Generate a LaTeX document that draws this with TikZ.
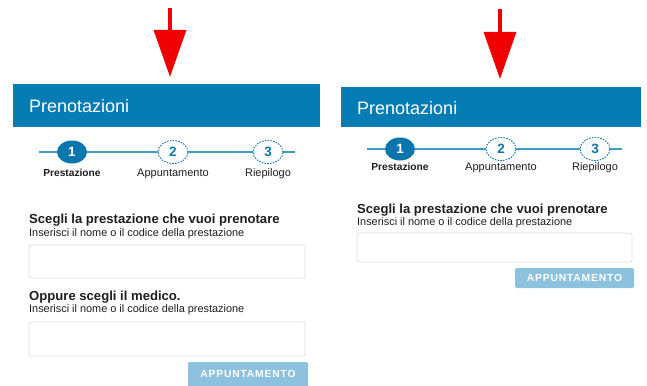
\documentclass[tikz,border=0pt]{standalone}
\usepackage{fontspec}
\setmainfont{Liberation Sans}
\usetikzlibrary{arrows.meta,shapes.geometric}
\definecolor{hdrblue}{RGB}{5,124,180}
\definecolor{stepblue}{RGB}{10,118,172}
\definecolor{lineblue}{RGB}{60,155,200}
\definecolor{btnblue}{RGB}{140,194,222}
\definecolor{boxgray}{RGB}{222,222,222}
\definecolor{txt}{RGB}{30,30,30}
\definecolor{arrowred}{RGB}{240,0,0}
\tikzset{
  header/.style={fill=hdrblue, draw=none},
  titletxt/.style={anchor=base west, text=white, font=\fontsize{18}{20}\selectfont, inner sep=0},
  stepdone/.style={ellipse, fill=stepblue, text=white, minimum width=30, minimum height=23, inner sep=0, font=\fontsize{13.5}{14}\selectfont\bfseries},
  steptodo/.style={ellipse, draw=stepblue, dashed, dash pattern=on 1.6pt off 1.2pt, line width=0.9pt, fill=white, text=stepblue, minimum width=30, minimum height=23, inner sep=0, font=\fontsize{13.5}{14}\selectfont\bfseries},
  stepline/.style={draw=lineblue, line width=1.2pt},
  steplbl/.style={anchor=base, text=txt, inner sep=0, font=\fontsize{11}{12}\selectfont},
  steplblb/.style={anchor=base, text=txt, inner sep=0, font=\fontsize{10.2}{12}\selectfont\bfseries},
  heading/.style={anchor=base west, text=txt, inner sep=0, font=\fontsize{13.1}{15}\selectfont\bfseries},
  hint/.style={anchor=base west, text=txt, inner sep=0, font=\fontsize{10.9}{12}\selectfont},
  inbox/.style={draw=boxgray, fill=white, rounded corners=2pt, line width=0.8pt},
  btn/.style={fill=btnblue, rounded corners=2pt, draw=none},
  btntxt/.style={text=white, inner sep=0, font=\fontsize{10.3}{12}\selectfont\bfseries},
  redarrow/.style={draw=arrowred, line width=3.5pt, -{Triangle[width=32pt,length=47pt]}},
}
\newcommand{\spaced}[1]{\addfontfeatures{LetterSpace=8}#1}
\begin{document}
\begin{tikzpicture}[x=1pt,y=-1pt]
\useasboundingbox (0,0) rectangle (647,385);
\fill[white] (0,0) rectangle (647,385);

% ---------------- left panel ----------------
\coordinate (aLtop) at (170,8);
\coordinate (aLtip) at (170,77);
\draw[redarrow] (aLtop) -- (aLtip);

\fill[header] (13,84) rectangle (320,127);
\node[titletxt] (tL) at (29,113) {Prenotazioni};

\coordinate (lsL) at (39,152);
\coordinate (leL) at (295,152);
\node[stepdone] (s1L) at (72,152) {1};
\node[steptodo] (s2L) at (173,152) {2};
\node[steptodo] (s3L) at (268,152) {3};
\draw[stepline] (lsL) -- (s1L);
\draw[stepline] (s1L) -- (s2L);
\draw[stepline] (s2L) -- (s3L);
\draw[stepline] (s3L) -- (leL);
\node[steplblb] (p1L) at (72,176) {Prestazione};
\node[steplbl] (p2L) at (173,176) {Appuntamento};
\node[steplbl] (p3L) at (268,176) {Riepilogo};

\node[heading] (h1L) at (29,223) {Scegli la prestazione che vuoi prenotare};
\node[hint] (i1L) at (29,236) {Inserisci il nome o il codice della prestazione};
\draw[inbox] (29,245) rectangle (305,278);
\node[heading] (h2L) at (29,300) {Oppure scegli il medico.};
\node[hint] (i2L) at (29,312) {Inserisci il nome o il codice della prestazione};
\draw[inbox] (29,322) rectangle (305,356);
\fill[btn] (188,362) rectangle (308,388);
\node[btntxt] (bL) at (248,373.5) {\spaced{APPUNTAMENTO}};

% ---------------- right panel ----------------
\coordinate (aRtop) at (500,9);
\coordinate (aRtip) at (500,79);
\draw[redarrow] (aRtop) -- (aRtip);

\fill[header] (341,87) rectangle (641,127);
\node[titletxt] (tR) at (357,114) {Prenotazioni};

\coordinate (lsR) at (367,149);
\coordinate (leR) at (622,149);
\node[stepdone] (s1R) at (400,149) {1};
\node[steptodo] (s2R) at (501,149) {2};
\node[steptodo] (s3R) at (595,149) {3};
\draw[stepline] (lsR) -- (s1R);
\draw[stepline] (s1R) -- (s2R);
\draw[stepline] (s2R) -- (s3R);
\draw[stepline] (s3R) -- (leR);
\node[steplblb] (p1R) at (400,170) {Prestazione};
\node[steplbl] (p2R) at (501,170) {Appuntamento};
\node[steplbl] (p3R) at (595,170) {Riepilogo};

\node[heading] (h1R) at (357,213) {Scegli la prestazione che vuoi prenotare};
\node[hint] (i1R) at (357,225) {Inserisci il nome o il codice della prestazione};
\draw[inbox] (357,233) rectangle (632,262);
\fill[btn] (515,268) rectangle (634,288);
\node[btntxt] (bR) at (574.5,278) {\spaced{APPUNTAMENTO}};
\end{tikzpicture}
\end{document}
